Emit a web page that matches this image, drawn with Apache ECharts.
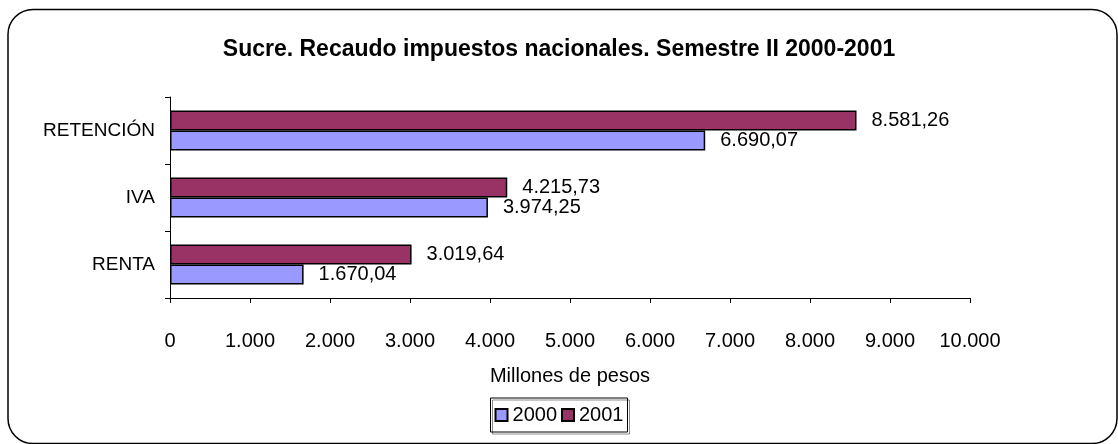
<!DOCTYPE html>
<html>
<head>
<meta charset="utf-8">
<script src="https://cdn.jsdelivr.net/npm/echarts@6/dist/echarts.min.js"></script>
<style>
  html, body { margin: 0; padding: 0; background: #fff; }
  #chart { width: 1118px; height: 444px; }
</style>
</head>
<body>
<div id="chart"></div>
<script>
// datos del grafico
const categorias = ['RENTA', 'IVA', 'RETENCIÓN'];
const serie2000 = [1670.04, 3974.25, 6690.07];
const serie2001 = [3019.64, 4215.73, 8581.26];
const nombres = ['2000', '2001'];

const fuente = 'Liberation Sans, Arial, sans-serif';

// formato 8.581,26
function fmt(v, dec) {
  let s = v.toFixed(dec);
  let parts = s.split('.');
  parts[0] = parts[0].replace(/\B(?=(\d{3})+(?!\d))/g, '.');
  return dec ? parts[0] + ',' + parts[1] : parts[0];
}

let myChart = echarts.init(document.getElementById('chart'));

const etiqueta = {
  show: true, position: 'right', distance: 15, offset: [0, 0],
  fontSize: 20, color: '#000', formatter: p => fmt(p.value, 2)
};

let option = {
  animation: false,
  textStyle: { fontFamily: fuente },
  title: {
    text: 'Sucre. Recaudo impuestos nacionales. Semestre II 2000-2001',
    left: 'center',
    top: 33,
    textStyle: { fontSize: 23, fontWeight: 'bold', color: '#000', fontFamily: fuente }
  },
  graphic: [
    {
      type: 'rect',
      shape: { x: 8, y: 9.5, width: 1109, height: 434, r: 25 },
      style: { fill: 'none', stroke: '#000', lineWidth: 1.5 },
      z: -10
    }
  ],
  legend: {
    data: nombres,
    bottom: 12,
    left: 'center',
    icon: 'rect',
    itemWidth: 12,
    itemHeight: 12,
    itemGap: 4,
    padding: [7, 4, 7, 4],
    borderColor: '#000',
    borderWidth: 1,
    shadowColor: 'rgba(0,0,0,0.45)',
    shadowOffsetX: 2,
    shadowOffsetY: 2,
    itemStyle: { borderColor: '#000', borderWidth: 2 },
    textStyle: { fontSize: 20, color: '#000', fontFamily: fuente }
  },
  grid: { left: 170, right: 148, top: 97, bottom: 146, containLabel: false },
  xAxis: {
    type: 'value',
    min: 0,
    max: 10000,
    interval: 1000,
    name: 'Millones de pesos',
    nameLocation: 'middle',
    nameGap: 68,
    nameTextStyle: { fontSize: 20, color: '#000' },
    axisLine: { show: true, lineStyle: { color: '#000', width: 1 } },
    axisTick: { show: true, length: 5, lineStyle: { color: '#000' } },
    axisLabel: { fontSize: 20, color: '#000', margin: 33, formatter: v => fmt(v, 0) },
    splitLine: { show: false }
  },
  yAxis: {
    type: 'category',
    data: categorias,
    axisLine: { show: true, lineStyle: { color: '#000', width: 1 } },
    axisTick: { show: true, length: 5, lineStyle: { color: '#000' } },
    axisLabel: { fontSize: 19, color: '#000', margin: 15 }
  },
  series: [
    {
      name: '2001',
      type: 'bar',
      data: serie2001,
      barWidth: 20,
      barGap: '0%',
      itemStyle: { color: '#993366', borderColor: '#000', borderWidth: 1.5 },
      label: etiqueta
    },
    {
      name: '2000',
      type: 'bar',
      data: serie2000,
      barWidth: 20,
      barGap: '0%',
      itemStyle: { color: '#9999FF', borderColor: '#000', borderWidth: 1.5 },
      label: etiqueta
    }
  ]
};
myChart.setOption(option);
</script>
</body>
</html>
